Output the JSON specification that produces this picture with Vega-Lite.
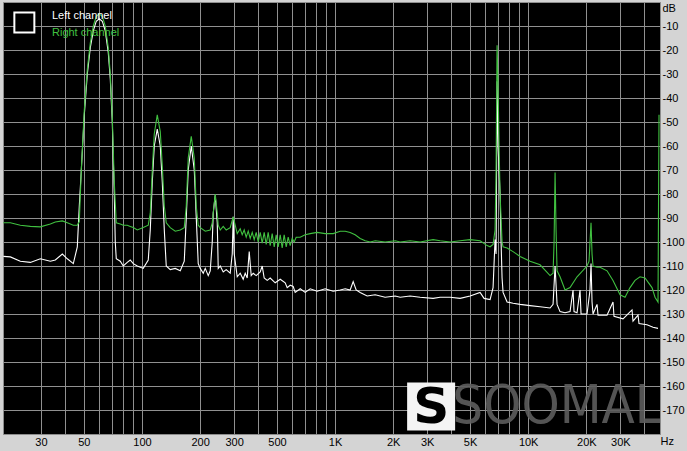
{
  "$schema": "https://vega.github.io/schema/vega-lite/v6.json",
  "autosize": {"type": "none"},
  "width": 657,
  "height": 432,
  "padding": {"left": 3, "top": 2, "right": 27, "bottom": 17},
  "background": "#d4d4d4",
  "config": {
    "view": {"fill": "#000000", "stroke": "#8c8c8c", "strokeWidth": 1},
    "font": "Liberation Sans"
  },
  "datasets": {
    "right": [
      {"f":19.15,"db":-92},{"f":20.81,"db":-92},{"f":23.45,"db":-93},{"f":26.42,"db":-93.5},{"f":29.77,"db":-93.7},{"f":33.53,"db":-92.5},{"f":35.59,"db":-91.7},{"f":38.69,"db":-91.2},{"f":41.06,"db":-92},{"f":44.10,"db":-93},{"f":46.26,"db":-93},{"f":47.37,"db":-91.5},{"f":48.52,"db":-70},{"f":50.28,"db":-45},{"f":52.12,"db":-28},{"f":54.01,"db":-17},{"f":55.97,"db":-10},{"f":58.00,"db":-6},{"f":60.12,"db":-5},{"f":62.30,"db":-6},{"f":64.57,"db":-10},{"f":66.91,"db":-19},{"f":68.53,"db":-30},{"f":70.19,"db":-48},{"f":71.88,"db":-75},{"f":73.62,"db":-92},{"f":77.21,"db":-92.5},{"f":80.01,"db":-93},{"f":83.91,"db":-93},{"f":86.98,"db":-93.5},{"f":90.16,"db":-94},{"f":94.56,"db":-95},{"f":101.55,"db":-94},{"f":107.79,"db":-93},{"f":110.4,"db":-88},{"f":113.1,"db":-70},{"f":115.8,"db":-55},{"f":120.0,"db":-47},{"f":124.4,"db":-54},{"f":127.4,"db":-68},{"f":130.5,"db":-85},{"f":133.6,"db":-92},{"f":140.1,"db":-94},{"f":148.7,"db":-95.5},{"f":157.9,"db":-95},{"f":165.6,"db":-94},{"f":169.6,"db":-85},{"f":173.6,"db":-65},{"f":180.0,"db":-56},{"f":186.6,"db":-65},{"f":191.1,"db":-85},{"f":195.6,"db":-93},{"f":200.4,"db":-94},{"f":212.7,"db":-95.5},{"f":225.7,"db":-95},{"f":231.2,"db":-92},{"f":233.9,"db":-88},{"f":239.6,"db":-80},{"f":245.4,"db":-88},{"f":248.3,"db":-93},{"f":254.3,"db":-95},{"f":263.5,"db":-93.5},{"f":273.1,"db":-95},{"f":286.4,"db":-94},{"f":296.8,"db":-89.5},{"f":304.0,"db":-93},{"f":311.4,"db":-96.5},{"f":322.7,"db":-94.5},{"f":330.4,"db":-97},{"f":338.4,"db":-95},{"f":346.6,"db":-98},{"f":355.0,"db":-95.5},{"f":363.6,"db":-98.5},{"f":372.4,"db":-96},{"f":381.3,"db":-99},{"f":390.5,"db":-96},{"f":399.9,"db":-100},{"f":409.6,"db":-96},{"f":419.5,"db":-100.5},{"f":429.5,"db":-96},{"f":439.9,"db":-101},{"f":450.5,"db":-96},{"f":461.4,"db":-101.5},{"f":472.5,"db":-96.5},{"f":484.0,"db":-102},{"f":495.7,"db":-97},{"f":507.6,"db":-102},{"f":520.0,"db":-97},{"f":532.3,"db":-102.5},{"f":545.1,"db":-97},{"f":558.5,"db":-102},{"f":571.9,"db":-98},{"f":585.6,"db":-101.5},{"f":599.7,"db":-98.5},{"f":614.2,"db":-100},{"f":628.9,"db":-98},{"f":659.8,"db":-98},{"f":700.2,"db":-97},{"f":743.2,"db":-96.5},{"f":807.9,"db":-96},{"f":888.8,"db":-96.5},{"f":977.6,"db":-96.5},{"f":1063,"db":-95.5},{"f":1128,"db":-95.5},{"f":1197,"db":-96},{"f":1270,"db":-97},{"f":1349,"db":-98.5},{"f":1432,"db":-99.5},{"f":1519,"db":-100},{"f":1613,"db":-99.5},{"f":1816,"db":-100},{"f":2047,"db":-99.5},{"f":2173,"db":-100},{"f":2447,"db":-99.5},{"f":2757,"db":-100},{"f":3219,"db":-99},{"f":3499,"db":-99.5},{"f":3943,"db":-100},{"f":4442,"db":-99.5},{"f":5003,"db":-99},{"f":5636,"db":-99.5},{"f":6129,"db":-101.5},{"f":6350,"db":-102},{"f":6580,"db":-101},{"f":6739,"db":-95},{"f":6820,"db":-70},{"f":6902,"db":-18},{"f":6985,"db":-35},{"f":7069,"db":-60},{"f":7153,"db":-80},{"f":7326,"db":-100},{"f":7414,"db":-102},{"f":7778,"db":-102.5},{"f":8352,"db":-104},{"f":9082,"db":-106},{"f":10228,"db":-108},{"f":11525,"db":-109.5},{"f":12984,"db":-114},{"f":13457,"db":-113},{"f":13620,"db":-100},{"f":13783,"db":-71},{"f":13947,"db":-95},{"f":14115,"db":-112},{"f":14627,"db":-114.5},{"f":15524,"db":-120},{"f":16480,"db":-119},{"f":17911,"db":-114.5},{"f":20176,"db":-110},{"f":20662,"db":-108},{"f":20910,"db":-100},{"f":21162,"db":-92},{"f":21419,"db":-105},{"f":21672,"db":-110},{"f":22731,"db":-110.5},{"f":23562,"db":-110.5},{"f":25612,"db":-112},{"f":27504,"db":-116},{"f":29910,"db":-122},{"f":31740,"db":-123},{"f":33690,"db":-119},{"f":35760,"db":-116},{"f":37950,"db":-114.5},{"f":40290,"db":-115},{"f":43780,"db":-119},{"f":45380,"db":-123},{"f":47038,"db":-125},{"f":47600,"db":-47}
    ],
    "left": [
      {"f":19.15,"db":-106},{"f":20.81,"db":-106.2},{"f":23.45,"db":-108},{"f":26.42,"db":-108.5},{"f":29.77,"db":-107},{"f":33.53,"db":-108},{"f":35.59,"db":-107.5},{"f":38.69,"db":-105},{"f":41.06,"db":-107},{"f":44.10,"db":-109},{"f":46.26,"db":-102},{"f":47.37,"db":-85},{"f":48.52,"db":-70},{"f":50.28,"db":-47},{"f":52.12,"db":-30},{"f":54.01,"db":-19},{"f":55.97,"db":-12},{"f":58.00,"db":-8},{"f":60.12,"db":-7},{"f":62.30,"db":-8},{"f":64.57,"db":-12},{"f":66.91,"db":-21},{"f":68.53,"db":-32},{"f":70.19,"db":-50},{"f":71.88,"db":-80},{"f":72.74,"db":-100},{"f":73.62,"db":-107},{"f":77.21,"db":-108},{"f":80.01,"db":-110},{"f":83.91,"db":-108.5},{"f":86.98,"db":-107.5},{"f":90.16,"db":-109},{"f":94.56,"db":-110},{"f":101.55,"db":-111},{"f":107.79,"db":-107.5},{"f":110.4,"db":-95},{"f":113.1,"db":-75},{"f":115.8,"db":-60},{"f":120.0,"db":-53},{"f":124.4,"db":-60},{"f":127.4,"db":-75},{"f":130.5,"db":-95},{"f":133.6,"db":-110},{"f":140.1,"db":-111.5},{"f":148.7,"db":-111},{"f":157.9,"db":-112},{"f":165.6,"db":-108},{"f":169.6,"db":-90},{"f":173.6,"db":-70},{"f":180.0,"db":-60},{"f":186.6,"db":-70},{"f":191.1,"db":-90},{"f":195.6,"db":-109},{"f":200.4,"db":-111},{"f":207.7,"db":-113},{"f":212.7,"db":-111},{"f":220.4,"db":-114},{"f":225.7,"db":-112},{"f":231.2,"db":-100},{"f":233.9,"db":-88},{"f":239.6,"db":-80.5},{"f":245.4,"db":-92},{"f":248.3,"db":-111},{"f":254.3,"db":-110},{"f":263.5,"db":-112.5},{"f":273.1,"db":-111.5},{"f":286.4,"db":-113},{"f":293.4,"db":-105},{"f":296.8,"db":-89.5},{"f":300.5,"db":-105},{"f":311.4,"db":-114.5},{"f":322.7,"db":-113},{"f":334.4,"db":-115.5},{"f":342.5,"db":-113},{"f":350.8,"db":-115},{"f":359.3,"db":-104},{"f":367.9,"db":-114},{"f":376.8,"db":-113},{"f":390.5,"db":-114},{"f":409.6,"db":-112.5},{"f":419.5,"db":-110},{"f":429.5,"db":-115},{"f":445.2,"db":-116},{"f":461.4,"db":-115},{"f":489.8,"db":-117},{"f":520.0,"db":-115.5},{"f":551.7,"db":-117},{"f":565.1,"db":-119},{"f":585.6,"db":-118},{"f":606.9,"db":-118.5},{"f":621.5,"db":-121},{"f":659.8,"db":-119.5},{"f":700.2,"db":-121},{"f":743.2,"db":-119.5},{"f":807.9,"db":-120.5},{"f":888.8,"db":-119.5},{"f":977.6,"db":-120.5},{"f":1063,"db":-120},{"f":1128,"db":-119.5},{"f":1197,"db":-120},{"f":1241,"db":-116.5},{"f":1286,"db":-120},{"f":1349,"db":-121},{"f":1466,"db":-122.5},{"f":1613,"db":-122},{"f":1816,"db":-123},{"f":2047,"db":-122.5},{"f":2173,"db":-123},{"f":2447,"db":-122.5},{"f":2757,"db":-123},{"f":3219,"db":-123.5},{"f":3499,"db":-123},{"f":3943,"db":-123},{"f":4442,"db":-123.5},{"f":5003,"db":-122.5},{"f":5636,"db":-121},{"f":5911,"db":-123.5},{"f":6350,"db":-124},{"f":6580,"db":-119},{"f":6739,"db":-99},{"f":6820,"db":-105},{"f":6902,"db":-33},{"f":6985,"db":-60},{"f":7153,"db":-80},{"f":7239,"db":-100},{"f":7326,"db":-115},{"f":7414,"db":-121},{"f":7778,"db":-125},{"f":8352,"db":-125.5},{"f":9082,"db":-126},{"f":10228,"db":-126.5},{"f":11525,"db":-127},{"f":12984,"db":-127.5},{"f":13457,"db":-126},{"f":13783,"db":-110},{"f":14115,"db":-126},{"f":14627,"db":-129},{"f":15524,"db":-129.5},{"f":16480,"db":-129},{"f":17078,"db":-120},{"f":17282,"db":-129},{"f":17911,"db":-129.5},{"f":18561,"db":-120},{"f":18783,"db":-130},{"f":20176,"db":-130},{"f":20910,"db":-120},{"f":21162,"db":-109},{"f":21419,"db":-125},{"f":21672,"db":-130},{"f":22731,"db":-126},{"f":23004,"db":-130.5},{"f":25612,"db":-130.5},{"f":27504,"db":-125},{"f":27830,"db":-131},{"f":30990,"db":-132},{"f":34500,"db":-128.3},{"f":34914,"db":-133},{"f":37060,"db":-130.5},{"f":37500,"db":-134},{"f":41254,"db":-134.5},{"f":44318,"db":-135.5},{"f":47038,"db":-136}
    ],
    "logo": [{"f":3144,"db":-168.5,"t":"S"}],
    "brand": [{"f":14115,"db":-179.8,"t":"SOOMAL"}],
    "icon": [{"f":24.6,"db":-8.5}]
  },
  "encoding": {
    "x": {
      "field": "f", "type": "quantitative",
      "scale": {"type": "log", "domain": [19.07, 48165], "nice": false},
      "axis": {
        "values": [30,40,50,60,70,80,90,100,200,300,400,500,600,700,800,900,1000,2000,3000,4000,5000,6000,7000,8000,9000,10000,20000,30000,40000],
        "labelExpr": "indexof([30,50,100,200,300,500],datum.value)>=0 ? ''+datum.value : (indexof([1000,2000,3000,5000,10000,20000,30000],datum.value)>=0 ? (datum.value/1000)+'K' : '')",
        "grid": true, "gridColor": "#909090", "gridOpacity": 1, "gridWidth": 1,
        "ticks": false, "domain": false, "labelPadding": 2, "labelFontSize": 11, "labelColor": "#000000",
        "labelOverlap": false, "labelFlush": false, "labelBound": false, "labelAngle": 0,
        "title": "Hz", "titleX": 657, "titleY": 7, "titleAlign": "left", "titleBaseline": "middle",
        "titleFontWeight": "normal", "titleFontSize": 11, "titleColor": "#000000"
      }
    },
    "y": {
      "field": "db", "type": "quantitative",
      "scale": {"domain": [-180, 0], "nice": false},
      "axis": {
        "orient": "right",
        "values": [0,-10,-20,-30,-40,-50,-60,-70,-80,-90,-100,-110,-120,-130,-140,-150,-160,-170],
        "labelExpr": "datum.value == 0 ? '' : '' + datum.value",
        "grid": true, "gridColor": "#909090", "gridOpacity": 1, "gridWidth": 1,
        "ticks": false, "domain": false, "labelPadding": 2, "labelFontSize": 11, "labelColor": "#000000",
        "labelOverlap": false, "labelFlush": false, "labelBound": false,
        "title": "dB", "titleAngle": 0, "titleX": 2, "titleY": 6, "titleAlign": "left", "titleBaseline": "middle",
        "titleFontWeight": "normal", "titleFontSize": 11, "titleColor": "#000000"
      }
    }
  },
  "layer": [
    {
      "data": {"name": "logo"},
      "mark": {"type": "point", "shape": "square", "filled": true, "color": "#f4f4f4", "opacity": 1, "size": 2304},
      "encoding": {}
    },
    {
      "data": {"name": "logo"},
      "mark": {"type": "text", "color": "#000000", "fontSize": 50, "fontWeight": "bold", "font": "DejaVu Sans", "align": "center", "baseline": "middle", "dy": 2},
      "encoding": {"text": {"field": "t"}}
    },
    {
      "data": {"name": "brand"},
      "mark": {"type": "text", "color": "#5e5e5e", "fontSize": 54, "fontWeight": 300, "font": "Liberation Sans Narrow, DejaVu Sans Condensed, sans-serif", "align": "center", "baseline": "bottom", "opacity": 0.9, "clip": true},
      "encoding": {"text": {"field": "t"}}
    },
    {
      "data": {"name": "icon"},
      "mark": {"type": "point", "shape": "square", "filled": false, "stroke": "#ffffff", "strokeWidth": 2, "fill": "#000000", "fillOpacity": 1, "opacity": 1, "size": 400},
      "encoding": {}
    },
    {
      "data": {"name": "left"},
      "mark": {"type": "line", "strokeWidth": 1.1, "clip": true},
      "encoding": {
        "color": {
          "datum": "Left channel",
          "scale": {"domain": ["Left channel", "Right channel"], "range": ["#ffffff", "#40c040"]},
          "legend": {
            "orient": "none", "legendX": 36, "legendY": 8, "title": null,
            "padding": 0, "symbolOpacity": 0, "symbolSize": 1, "symbolStrokeWidth": 0,
            "labelOffset": 2, "labelFontSize": 11, "rowPadding": 5,
            "encode": {"labels": {"update": {"fill": {"signal": "datum.value == 'Left channel' ? '#ffffff' : '#40c040'"}}}}
          }
        }
      }
    },
    {
      "data": {"name": "right"},
      "mark": {"type": "line", "strokeWidth": 1.1, "clip": true},
      "encoding": {"color": {"datum": "Right channel"}}
    }
  ]
}
